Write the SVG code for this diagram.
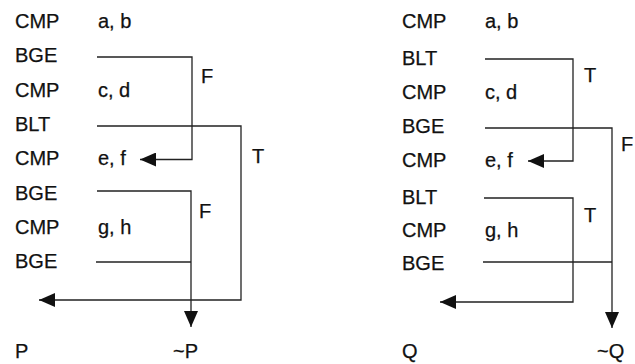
<svg xmlns="http://www.w3.org/2000/svg" width="635" height="364" viewBox="0 0 635 364">
<style>
text{font-family:"Liberation Sans",Arial,sans-serif;font-size:20px;fill:#111;stroke:#111;stroke-width:0.25}
.c{fill:none;stroke:#222;stroke-width:1.3}
</style>
<defs>
<marker id="ah" viewBox="0 0 16 14" refX="16" refY="7" markerWidth="16" markerHeight="14" markerUnits="userSpaceOnUse" orient="auto">
<path d="M0,0 L16,7 L0,14 z" fill="#111"/>
</marker>
</defs>
<rect width="635" height="364" fill="#fff"/>
<g id="left">
<g id="L0"><text x="15" y="28">CMP</text><text x="98" y="28">a, b</text></g>
<g id="L1"><text x="15" y="62">BGE</text></g>
<g id="L2"><text x="15" y="96.5">CMP</text><text x="98" y="96.5">c, d</text></g>
<g id="L3"><text x="15" y="131">BLT</text></g>
<g id="L4"><text x="15" y="165">CMP</text><text x="98" y="165">e, f</text></g>
<g id="L5"><text x="15" y="199.5">BGE</text></g>
<g id="L6"><text x="15" y="234">CMP</text><text x="98" y="234">g, h</text></g>
<g id="L7"><text x="15" y="268">BGE</text></g>
<g id="P"><text x="15" y="358">P</text></g>
<g id="notP"><text x="173" y="358">~P</text></g>
</g>
<g id="right">
<g id="R0"><text x="402" y="28">CMP</text><text x="485" y="28">a, b</text></g>
<g id="R1"><text x="402" y="65">BLT</text></g>
<g id="R2"><text x="402" y="99">CMP</text><text x="485" y="99">c, d</text></g>
<g id="R3"><text x="402" y="133">BGE</text></g>
<g id="R4"><text x="402" y="167">CMP</text><text x="485" y="167">e, f</text></g>
<g id="R5"><text x="402" y="204">BLT</text></g>
<g id="R6"><text x="402" y="237">CMP</text><text x="485" y="237">g, h</text></g>
<g id="R7"><text x="402" y="270">BGE</text></g>
<g id="Q"><text x="402" y="358">Q</text></g>
<g id="notQ"><text x="597" y="358">~Q</text></g>
</g>
<g id="connectors">
<path class="c" d="M97,57 H192 V159.5 H140" marker-end="url(#ah)"/>
<path class="c" d="M97,126 H241 V300 H39" marker-end="url(#ah)"/>
<path class="c" d="M97,191 H191 V327" marker-end="url(#ah)"/>
<path class="c" d="M96,262 H191"/>
<text x="201" y="83">F</text>
<text x="252" y="163">T</text>
<text x="199" y="218">F</text>
<path class="c" d="M485,59 H573 V161 H528" marker-end="url(#ah)"/>
<path class="c" d="M485,128 H612 V328" marker-end="url(#ah)"/>
<path class="c" d="M484,198 H573 V302 H440" marker-end="url(#ah)"/>
<path class="c" d="M483,262 H612"/>
<text x="584" y="82">T</text>
<text x="621" y="151">F</text>
<text x="584" y="222">T</text>
</g>
</svg>
